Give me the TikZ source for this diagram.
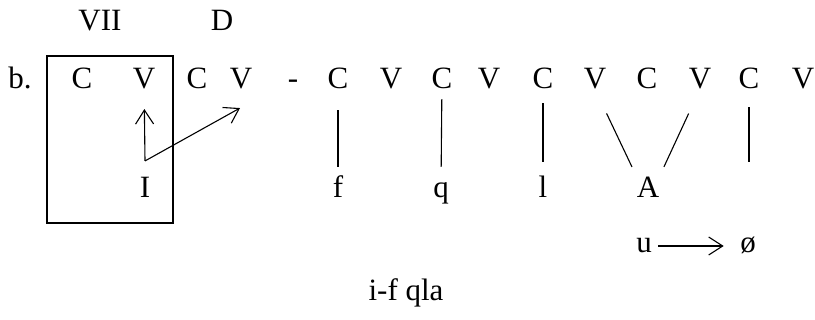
\documentclass[tikz,border=0pt]{standalone}
\usepackage{fontspec}
\setmainfont{Liberation Serif}
\usetikzlibrary{arrows.meta, calc}

\begin{document}
\begin{tikzpicture}[x=1pt, y=-1pt, line width=1.1pt,
    >={Straight Barb[length=14pt, width=18pt]},
    seg/.style={inner sep=0pt, text height=21pt, text depth=0pt, font=\fontsize{31}{34}\selectfont},
    low/.style={seg, text height=13pt},
    assoc/.style={shorten <=21pt, shorten >=9pt}]
    \useasboundingbox (0,0) rectangle (815,320);
    % labels over the skeleton
    \node[seg] (vii) at (100,20) {VII};
    \node[seg] (dd) at (222,20) {D};
    % CV skeleton
    \node[seg] (ex) at (20,78) {b.};
    \foreach \x/\s/\n in {82/C/c1, 144/V/v1, 197/C/c2, 241/V/v2, 293/-/hyph, 338/C/c3, 391/V/v3,
        442/C/c4, 489/V/v4, 543/C/c5, 595/V/v5, 647/C/c6, 700/V/v6, 749/C/c7, 803/V/v7}
        \node[seg] (\n) at (\x,78) {\s};
    \draw (47,56) rectangle (173,223);

    % melody
    \node[seg] (I) at (145,187) {I};
    \node[seg] (f) at (338,187) {f};
    \node[seg] (q) at (441,187) {q};
    \node[seg] (l) at (543,187) {l};
    \node[seg] (A) at (648,187) {A};
    \coordinate (fork) at ($(I.north)+(0,-15)$);
    \coordinate (cfoot) at (749,162);

    \draw[->, shorten >=20pt] (fork) -- (v1);
    \draw[->] (fork) -- ([shift={(-1pt,-19pt)}]v2.south);
    \draw[assoc] (c3) -- (f);
    \draw[assoc, shorten <=10pt] (c4) -- (q);
    \draw[assoc, shorten <=14pt, shorten >=14pt] (c5) -- (l);
    \draw[shorten <=27pt, shorten >=10pt] (v5.south) -- (A.north west);
    \draw[shorten <=27pt, shorten >=10pt] (v6.south) -- (A.north east);
    \draw[shorten <=18pt] (c7) -- (cfoot);

    % deletion
    \node[low] (u) at (644,246) {u};
    \node[low] (null) at (748,246) {ø};
    \draw[->, shorten <=6pt, shorten >=16pt] (u) -- (null);

    \node[seg] (gloss) at (406,290) {i-f qla};
\end{tikzpicture}
\end{document}
